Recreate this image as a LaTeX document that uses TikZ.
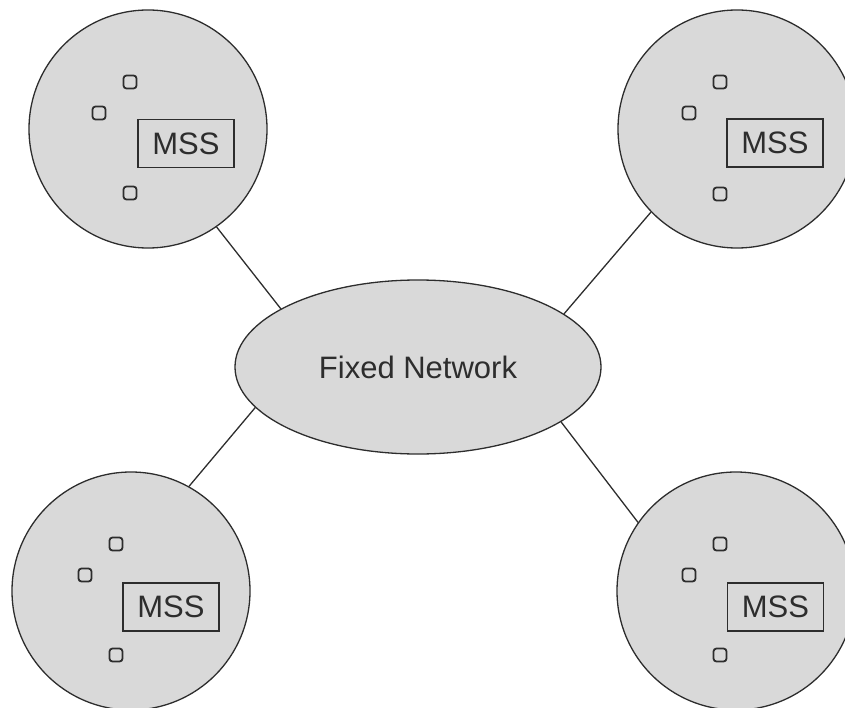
\documentclass[tikz,border=0pt]{standalone}
\usepackage{fontspec}
\setmainfont{Liberation Sans}
\usetikzlibrary{shapes.geometric}
\definecolor{cellgray}{RGB}{217,217,217}
\definecolor{inkgray}{RGB}{45,45,45}
\tikzset{
  cell/.style={circle, draw=inkgray, fill=cellgray, line width=1.3bp, inner sep=0pt, minimum size=238bp},
  net/.style={ellipse, draw=inkgray, fill=cellgray, line width=1.3bp, inner sep=0pt, minimum width=366bp, minimum height=174bp, font=\fontsize{31bp}{36bp}\selectfont, text=inkgray},
  mss/.style={rectangle, draw=inkgray, line width=1.4bp, inner sep=0pt, minimum width=96bp, minimum height=48bp, font=\fontsize{31bp}{36bp}\selectfont, text=inkgray},
  host/.style={rectangle, rounded corners=3bp, draw=inkgray, line width=1.8bp, inner sep=0pt, minimum size=13bp},
  link/.style={draw=inkgray, line width=1.3bp}
}
\begin{document}
\begin{tikzpicture}[x=1bp,y=-1bp]
\useasboundingbox (0,0) rectangle (845,708);
\clip (0,0) rectangle (845,708);
% cells
\node[cell] (c1) at (148,129) {};
\node[cell] (c2) at (737,129) {};
\node[cell] (c3) at (131,591) {};
\node[cell] (c4) at (736,591) {};
% fixed network
\node[net] (fn) at (418,367) {Fixed Network};
% links
\draw[link] (c1.-55) -- (fn.157);
\draw[link] (c2.224) -- (fn.20);
\draw[link] (c3.61) -- (fn.194);
\draw[link] (c4.145) -- (fn.-21);
% cell 1 contents
\node[mss] (m1) at (186,143.5) {MSS};
\node[host] (h11) at (130,82) {};
\node[host] (h12) at (99,113) {};
\node[host] (h13) at (130,193) {};
% cell 2 contents
\node[mss] (m2) at (775,143) {MSS};
\node[host] (h21) at (720,82) {};
\node[host] (h22) at (689,113) {};
\node[host] (h23) at (720,194) {};
% cell 3 contents
\node[mss] (m3) at (171,607) {MSS};
\node[host] (h31) at (116,544) {};
\node[host] (h32) at (85,575) {};
\node[host] (h33) at (116,655) {};
% cell 4 contents
\node[mss] (m4) at (775.5,607) {MSS};
\node[host] (h41) at (720,544) {};
\node[host] (h42) at (689,575) {};
\node[host] (h43) at (720,655) {};
\end{tikzpicture}
\end{document}
